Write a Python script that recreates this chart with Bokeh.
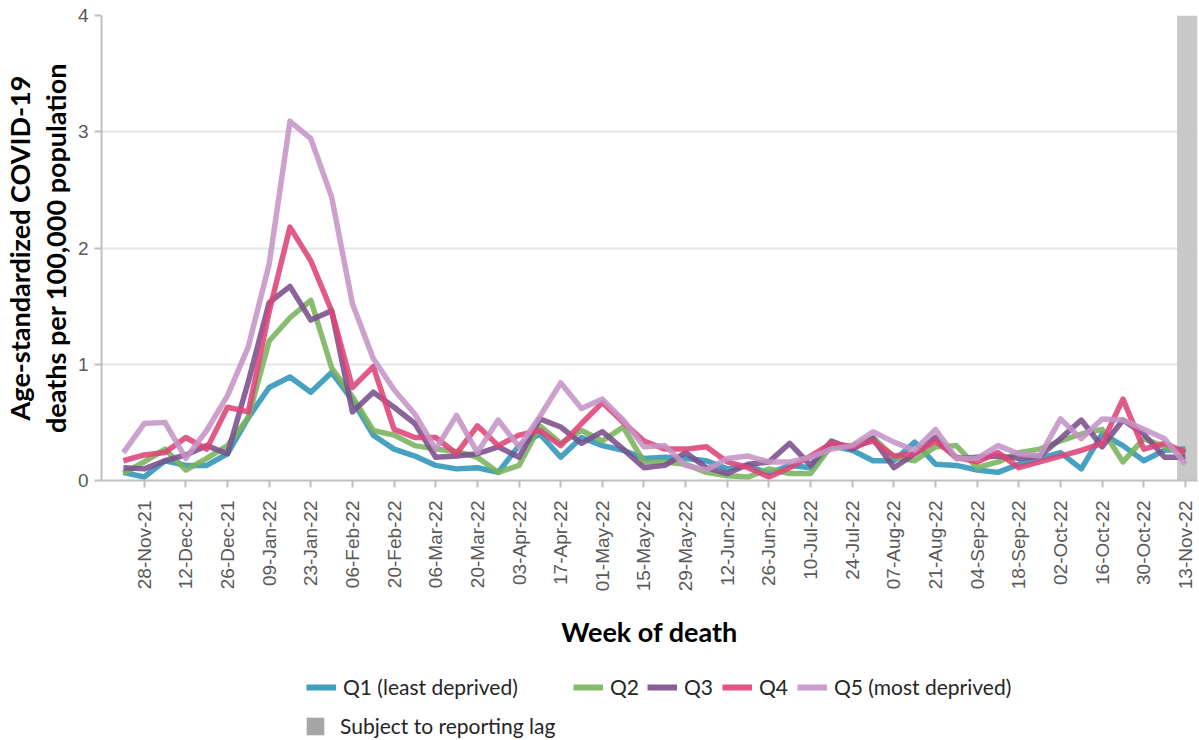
from math import pi
from bokeh.plotting import figure
from bokeh.layouts import column
from bokeh.models import Range1d, FixedTicker, Legend, LegendItem
from bokeh.embed import file_html
from bokeh.resources import INLINE

weeks = ["21-Nov-21", "28-Nov-21", "05-Dec-21", "12-Dec-21", "19-Dec-21", "26-Dec-21",
         "02-Jan-22", "09-Jan-22", "16-Jan-22", "23-Jan-22", "30-Jan-22", "06-Feb-22",
         "13-Feb-22", "20-Feb-22", "27-Feb-22", "06-Mar-22", "13-Mar-22", "20-Mar-22",
         "27-Mar-22", "03-Apr-22", "10-Apr-22", "17-Apr-22", "24-Apr-22", "01-May-22",
         "08-May-22", "15-May-22", "22-May-22", "29-May-22", "05-Jun-22", "12-Jun-22",
         "19-Jun-22", "26-Jun-22", "03-Jul-22", "10-Jul-22", "17-Jul-22", "24-Jul-22",
         "31-Jul-22", "07-Aug-22", "14-Aug-22", "21-Aug-22", "28-Aug-22", "04-Sep-22",
         "11-Sep-22", "18-Sep-22", "25-Sep-22", "02-Oct-22", "09-Oct-22", "16-Oct-22",
         "23-Oct-22", "30-Oct-22", "06-Nov-22", "13-Nov-22"]

tick_labels = ["28-Nov-21", "12-Dec-21", "26-Dec-21", "09-Jan-22", "23-Jan-22", "06-Feb-22",
               "20-Feb-22", "06-Mar-22", "20-Mar-22", "03-Apr-22", "17-Apr-22", "01-May-22",
               "15-May-22", "29-May-22", "12-Jun-22", "26-Jun-22", "10-Jul-22", "24-Jul-22",
               "07-Aug-22", "21-Aug-22", "04-Sep-22", "18-Sep-22", "02-Oct-22", "16-Oct-22",
               "30-Oct-22", "13-Nov-22"]

q1 = [0.07, 0.03, 0.17, 0.13, 0.13, 0.23, 0.54, 0.80, 0.89, 0.76, 0.93, 0.69, 0.39,
      0.27, 0.21, 0.13, 0.10, 0.11, 0.07, 0.30, 0.40, 0.20, 0.37, 0.30, 0.26, 0.19,
      0.20, 0.19, 0.17, 0.10, 0.13, 0.06, 0.13, 0.11, 0.30, 0.26, 0.17, 0.17, 0.33,
      0.14, 0.13, 0.09, 0.07, 0.14, 0.19, 0.24, 0.10, 0.40, 0.30, 0.17, 0.26, 0.27]
q2 = [0.06, 0.16, 0.27, 0.09, 0.19, 0.30, 0.54, 1.20, 1.40, 1.55, 0.97, 0.72, 0.43,
      0.39, 0.30, 0.27, 0.25, 0.20, 0.07, 0.13, 0.47, 0.32, 0.43, 0.34, 0.46, 0.16,
      0.16, 0.14, 0.07, 0.04, 0.03, 0.10, 0.06, 0.06, 0.30, 0.30, 0.37, 0.20, 0.17,
      0.29, 0.30, 0.11, 0.16, 0.24, 0.27, 0.34, 0.40, 0.44, 0.16, 0.36, 0.29, 0.23]
q3 = [0.11, 0.10, 0.17, 0.22, 0.30, 0.23, 0.85, 1.53, 1.67, 1.38, 1.46, 0.59, 0.76,
      0.63, 0.49, 0.20, 0.21, 0.23, 0.29, 0.20, 0.53, 0.46, 0.32, 0.42, 0.27, 0.11,
      0.13, 0.24, 0.11, 0.06, 0.14, 0.16, 0.32, 0.13, 0.34, 0.27, 0.36, 0.11, 0.23,
      0.37, 0.19, 0.20, 0.21, 0.19, 0.21, 0.36, 0.52, 0.29, 0.52, 0.40, 0.20, 0.20]
q4 = [0.17, 0.22, 0.24, 0.37, 0.27, 0.63, 0.59, 1.45, 2.18, 1.89, 1.46, 0.80, 0.98,
      0.44, 0.37, 0.37, 0.23, 0.47, 0.30, 0.39, 0.43, 0.30, 0.49, 0.67, 0.50, 0.34,
      0.27, 0.27, 0.29, 0.16, 0.11, 0.03, 0.11, 0.21, 0.32, 0.29, 0.34, 0.21, 0.23,
      0.34, 0.20, 0.16, 0.24, 0.11, 0.16, 0.21, 0.26, 0.32, 0.70, 0.27, 0.32, 0.24]
q5 = [0.24, 0.49, 0.50, 0.19, 0.43, 0.73, 1.15, 1.86, 3.09, 2.94, 2.44, 1.52, 1.05,
      0.78, 0.57, 0.27, 0.56, 0.24, 0.52, 0.29, 0.55, 0.84, 0.62, 0.70, 0.52, 0.29,
      0.30, 0.13, 0.09, 0.19, 0.21, 0.16, 0.16, 0.20, 0.27, 0.30, 0.42, 0.33, 0.26,
      0.44, 0.19, 0.19, 0.30, 0.23, 0.21, 0.53, 0.36, 0.53, 0.52, 0.44, 0.36, 0.14]

series_names = ["Q1 (least deprived)", "Q2", "Q3", "Q4", "Q5 (most deprived)"]
series_colors = ["#2D94B8", "#79B35C", "#7B4F8C", "#DE4377", "#C594C6"]
lag_label = "Subject to reporting lag"
lag_weeks = ["13-Nov-22"]

x = list(range(len(weeks)))
tick_idx = [weeks.index(t) for t in tick_labels]

TEXT_FONT = "Lato"
W = 1199

p = figure(width=W, height=673, output_backend="svg", toolbar_location=None,
           x_range=Range1d(-1.05, len(weeks) - 1 + 0.58), y_range=Range1d(0, 4),
           min_border_left=100, min_border_right=2, min_border_top=15, min_border_bottom=193)
p.outline_line_color = None

# reporting-lag band
lag_x = [weeks.index(w) + 0.1 for w in lag_weeks]
p.vbar(x=lag_x, width=1.0, bottom=0, top=4, fill_color="#C8C8C8", line_color=None)

for vals, col in zip([q1, q2, q3, q4, q5], series_colors):
    p.line(x, vals, line_color=col, line_width=5.5, line_alpha=0.88, line_join="round")

for ax in (p.xaxis[0], p.yaxis[0]):
    ax.axis_line_color = "#BFBFBF"
    ax.axis_line_width = 2
    ax.major_tick_line_color = "#BFBFBF"
    ax.major_tick_line_width = 2
    ax.major_tick_out = 7
    ax.major_tick_in = 0
    ax.minor_tick_line_color = None
    ax.major_label_text_font = "Liberation Sans"
    ax.major_label_text_font_size = "19px"
    ax.major_label_text_color = "#595959"
    ax.axis_label_text_font = TEXT_FONT
    ax.axis_label_text_font_style = "bold"
    ax.axis_label_text_font_size = "27px"
    ax.axis_label_text_line_height = 1.08
    ax.axis_label_text_color = "#000000"

p.xaxis.ticker = FixedTicker(ticks=tick_idx)
p.xaxis.major_label_overrides = {i: lab for i, lab in zip(tick_idx, tick_labels)}
p.xaxis.major_label_orientation = pi / 2
p.xaxis.major_label_standoff = 13
p.xaxis.axis_label = "Week of death"
p.xaxis.axis_label_standoff = 21

p.yaxis.ticker = FixedTicker(ticks=[0, 1, 2, 3, 4])
p.yaxis.major_label_standoff = 6
p.yaxis.axis_label = "Age-standardized COVID-19\ndeaths per 100,000 population"
p.yaxis.axis_label_standoff = 3

p.xgrid.visible = False
p.ygrid.ticker = FixedTicker(ticks=[0, 1, 2, 3, 4])
p.ygrid.grid_line_color = "#E6E6E6"
p.ygrid.grid_line_width = 2

# legend strip below the chart (its frame lines up with the chart's frame)
LH = 67
leg = figure(width=W, height=LH, output_backend="svg", toolbar_location=None,
             x_range=Range1d(0, 1), y_range=Range1d(0, 1), min_border=0,
             x_axis_location=None, y_axis_location=None)
leg.grid.visible = False
leg.outline_line_color = None

# legend key glyphs (kept outside the strip's visible range)
line_keys = [leg.line(x=[-5, -4], y=[-5, -5], line_color=c, line_width=6, line_alpha=0.9)
             for c in series_colors]
lag_key = leg.rect(x=[-5], y=[-5], width=1, height=1, fill_color="#A6A6A6", line_color=None)

def add_legend(label, rend, loc, gw=30, gh=20, standoff=7):
    lg = Legend(items=[LegendItem(label=label, renderers=[rend])], location=loc,
                orientation="horizontal", padding=0, margin=0, spacing=0,
                glyph_width=gw, glyph_height=gh, label_standoff=standoff,
                label_height=20, label_text_font=TEXT_FONT, label_text_font_size="21px",
                label_text_color="#262626", border_line_color=None,
                background_fill_alpha=0)
    leg.add_layout(lg, "center")

leg_x = [205, 472, 546, 621, 696]
for name, r, lx in zip(series_names, line_keys, leg_x):
    add_legend(name, r, (lx, 41))
add_legend(lag_label, lag_key, (203, 2), gw=22, gh=22, standoff=14)

open("out.html", "w").write(file_html(column(p, leg), INLINE))
